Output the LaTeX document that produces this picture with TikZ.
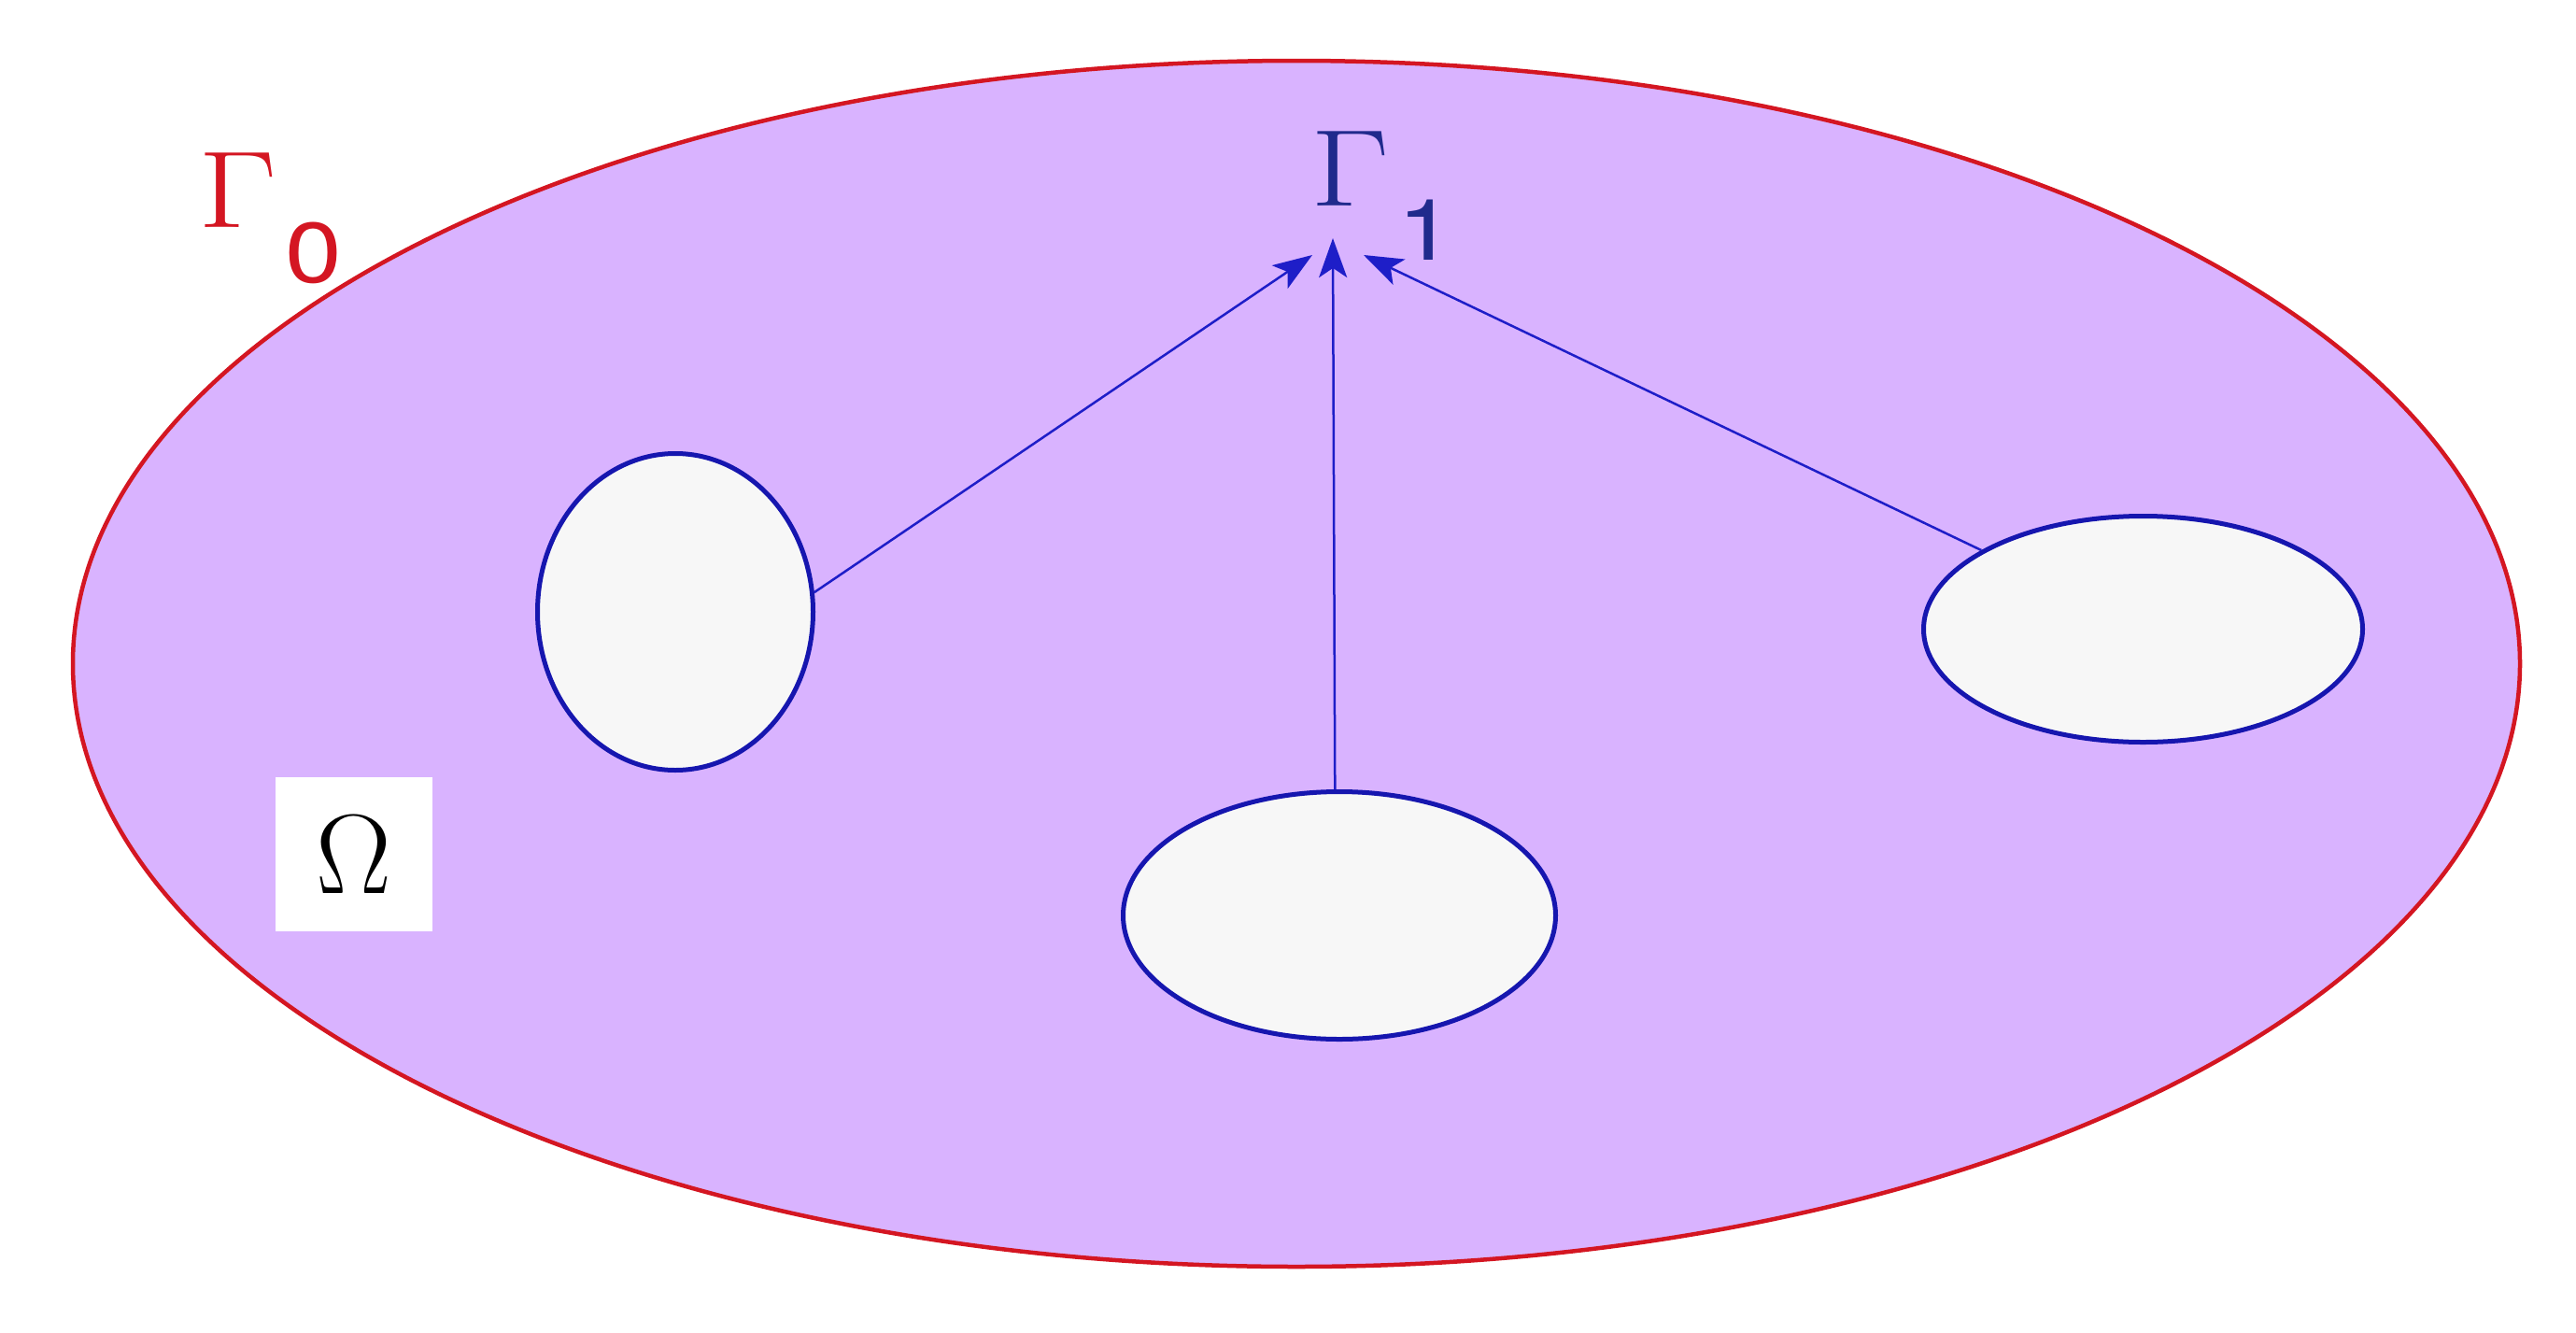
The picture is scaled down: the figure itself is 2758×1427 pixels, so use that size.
\documentclass[tikz,border=0pt]{standalone}
\usepackage{fontspec}
\newfontfamily\digf{TeX Gyre Heros}
\usetikzlibrary{shapes.geometric,arrows.meta}
\definecolor{lav}{RGB}{217,179,255}
\definecolor{gred}{RGB}{212,22,34}
\definecolor{holeblue}{RGB}{22,22,175}
\definecolor{holefill}{RGB}{247,247,247}
\definecolor{arrowblue}{RGB}{30,30,200}
\definecolor{gblue}{RGB}{32,42,140}
\newcommand{\bigGam}{\fontsize{117}{117}\selectfont\scalebox{1.25}[1]{Γ}}
\newcommand{\subdig}[1]{{\digf\fontsize{91}{91}\selectfont\scalebox{1.2}[1]{#1}}}
\begin{document}
\begin{tikzpicture}[x=1pt,y=-1pt,
  hole/.style={ellipse,draw=holeblue,fill=holefill,line width=5pt,inner sep=0pt},
  conn/.style={draw=arrowblue,line width=2.5pt,-{Stealth[length=42pt,width=30pt,inset=10pt]}},
  lbl/.style={inner sep=0pt,anchor=base west}]
\useasboundingbox (0,0) rectangle (2758,1427);
\fill[white] (0,0) rectangle (2758,1427);
\node[ellipse,draw=gred,fill=lav,line width=4.5pt,inner sep=0pt,minimum width=2620pt,minimum height=1291pt] (O) at (1388,710.5) {};
\node[hole,minimum width=295pt,minimum height=339pt] (L) at (723,655) {};
\node[hole,minimum width=470pt,minimum height=242pt] (R) at (2294.5,673.5) {};
\node[hole,minimum width=463pt,minimum height=265pt] (B) at (1434,980) {};
\node[fill=white,minimum width=168pt,minimum height=165pt,inner sep=0pt] (W) at (379,914.5) {\fontsize{121}{121}\selectfont Ω};
\node[lbl,text=gred] (G0) at (212,243) {\bigGam\kern9pt\raisebox{-59pt}{\subdig{0}}};
\node[lbl,text=gblue] (G1) at (1403,220) {\bigGam\kern9pt\raisebox{-58pt}{\subdig{1}}};
\coordinate (tL) at (1405,273);
\coordinate (tM) at (1427,255);
\coordinate (tR) at (1460,273);
\draw[conn] (L.8) -- (tL);
\draw[conn] (B.92) -- (tM);
\draw[conn] (R.154) -- (tR);
\end{tikzpicture}
\end{document}
